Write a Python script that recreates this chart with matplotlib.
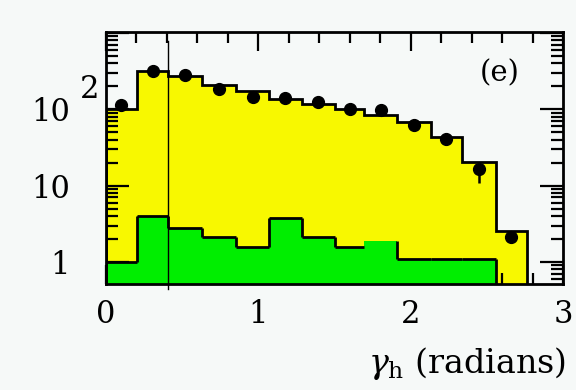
import numpy as np
import matplotlib
matplotlib.use("Agg")
import matplotlib.pyplot as plt
from matplotlib.ticker import LogLocator, NullFormatter, FixedLocator, MultipleLocator

# ---- data ----
bin_edges = [0.0, 0.202, 0.409, 0.629, 0.854, 1.070, 1.285, 1.503, 1.696,
             1.908, 2.131, 2.337, 2.558, 2.761]
mc_total = [100, 322, 272, 211, 173, 137, 116, 100, 84, 68, 43.3, 20.7, 2.58]
mc_bkg = [1.0, 4.06, 2.77, 2.15, 1.59, 3.75, 2.15, 1.59, 1.9, 1.1, 1.1, 1.1]
data_vals = [115, 322, 280, 184, 145, 139, 124, 100, 98, 63, 40.5, 16.4, 2.12]
data_err_lo = [6, 12, 11, 9, 8, 8, 7, 6, 6, 5, 4, 5.5, 0.35]
data_err_hi = [6, 12, 11, 9, 8, 8, 7, 6, 6, 5, 4, 4.3, 0.4]
bkg_no_outline = [8]
cut_x = 0.405
x_ticks = [0, 1, 2, 3]
y_ticks = [1, 10, 100]
y_tick_labels = ["1", "10", "10"]
panel_label = "(e)"
x_label = r"$\gamma_{\rm h}$ (radians)"

YELLOW = "#f8f800"
GREEN = "#00ee00"
BG = "#f6f9f8"

plt.rcParams["font.family"] = ["DejaVu Serif"]
plt.rcParams["mathtext.fontset"] = "dejavuserif"

fig = plt.figure(figsize=(5.76, 3.90), dpi=100, facecolor=BG)
ax = fig.add_axes([106 / 576, (390 - 284) / 390, 457 / 576, 252 / 390])
ax.set_facecolor(BG)
ax.set_yscale("log")
ax.set_xlim(0, 3)
ax.set_ylim(0.515, 1030)

edges = np.array(bin_edges)
centers = 0.5 * (edges[:-1] + edges[1:])

# total MC (yellow)
ax.stairs(mc_total, edges, baseline=1e-3, fill=True, color=YELLOW, zorder=1)
ax.stairs(mc_total, edges, baseline=1e-3, color="black", lw=2, zorder=3)

# background (green)
nb = len(mc_bkg)
g_edges = edges[:nb + 1]
ax.stairs(mc_bkg, g_edges, baseline=1e-3, fill=True, color=GREEN, zorder=2)
for i in range(nb):
    if i not in bkg_no_outline:
        ax.hlines(mc_bkg[i], g_edges[i], g_edges[i + 1], color="black", lw=2, zorder=3)
for i in range(1, nb):
    if i in bkg_no_outline:
        continue
    ax.vlines(g_edges[i], min(mc_bkg[i - 1], mc_bkg[i]), max(mc_bkg[i - 1], mc_bkg[i]),
              color="black", lw=2, zorder=3)
ax.vlines(g_edges[nb], 1e-3, mc_bkg[-1], color="black", lw=2, zorder=3)

# data points
ax.errorbar(centers, data_vals, yerr=[data_err_lo, data_err_hi], fmt="o",
            color="black", ms=8.5, elinewidth=1.8, capsize=0, zorder=5)

# cut line
ax.axvline(cut_x, ymin=-0.02, ymax=0.964, color="black", lw=1, clip_on=False, zorder=6)

# ticks
for s in ax.spines.values():
    s.set_linewidth(2)
    s.set_zorder(7)
ax.xaxis.set_major_locator(FixedLocator(x_ticks))
ax.xaxis.set_minor_locator(MultipleLocator(0.2))
ax.yaxis.set_minor_locator(LogLocator(base=10, subs=np.arange(2, 10)))
ax.yaxis.set_minor_formatter(NullFormatter())
ax.set_xticklabels([str(t) for t in x_ticks], fontsize=22)
ax.set_yticks(y_ticks + [1000])
ax.set_yticklabels(y_tick_labels + [""], fontsize=22)
ax.tick_params(axis="x", which="major", direction="in", length=14, width=1.6,
               top=True, bottom=True, pad=11)
ax.tick_params(axis="x", which="minor", direction="in", length=8, width=1.6,
               top=True, bottom=True)
ax.tick_params(axis="y", which="major", direction="in", length=16.5, width=1.6,
               left=True, right=True, pad=26)
ax.tick_params(axis="y", which="minor", direction="in", length=8.5, width=1.6,
               left=True, right=True)

# superscript of 10^2
fig.text(80 / 576, 1 - 90 / 390, "2", fontsize=22, ha="left", va="center")

ax.text(0.862, 0.837, panel_label, transform=ax.transAxes, fontsize=21,
        ha="center", va="center")
fig.text(566 / 576, 1 - 363 / 390, x_label, fontsize=24, ha="right", va="center")

fig.savefig("out.png", dpi=100, facecolor=BG)
